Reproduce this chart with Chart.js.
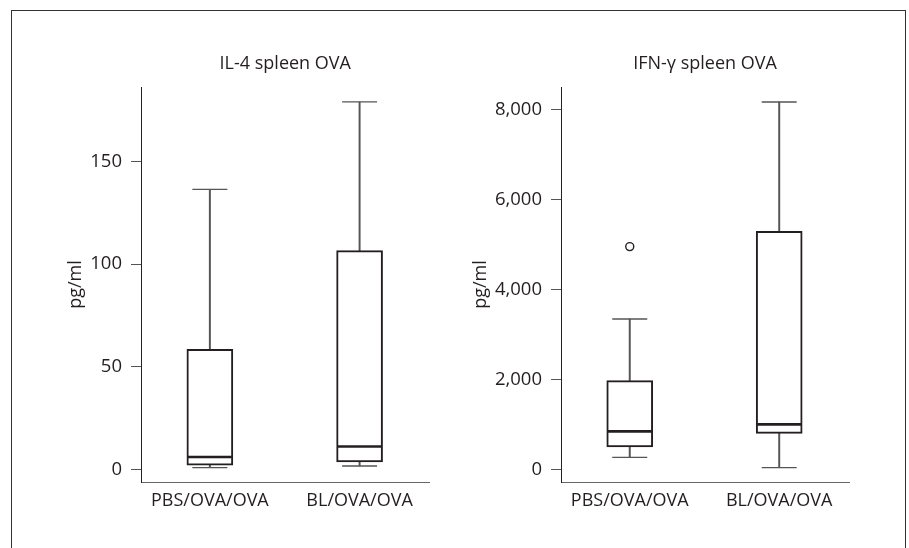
<!DOCTYPE html>
<html>
<head>
<meta charset="utf-8">
<script src="https://cdn.jsdelivr.net/npm/chart.js@4.4.1/dist/chart.umd.min.js"></script>
<style>
  html, body { margin: 0; padding: 0; background: #fff; }
  body { width: 909px; height: 548px; position: relative; overflow: hidden; }
  #frame { position: absolute; left: 11px; top: 10px; width: 893px; height: 600px; border: 1px solid #333; border-bottom: none; }
  canvas { position: absolute; top: 0; }
  #chartIL4 { left: 0; }
  #chartIFN { left: 455px; }
</style>
</head>
<body>
<div id="frame"></div>
<canvas id="chartIL4" width="455" height="548"></canvas>
<canvas id="chartIFN" width="454" height="548"></canvas>
<script>
// groups on the x axis
const categories = ["PBS/OVA/OVA", "BL/OVA/OVA"];

// IL-4 spleen OVA (pg/ml)
const il4Min = [0.8, 1.6];
const il4Q1 = [2.0, 3.6];
const il4Median = [6.0, 11.1];
const il4Q3 = [58.5, 106.6];
const il4Max = [136.5, 179.1];
const il4Ticks = [0, 50, 100, 150];

// IFN-γ spleen OVA (pg/ml)
const ifnMin = [267, 38];
const ifnQ1 = [496, 801];
const ifnMedian = [845, 1001];
const ifnQ3 = [1973, 5296];
const ifnMax = [3344, 8172];
const ifnTicks = [0, 2000, 4000, 6000, 8000];
const ifnOutlierGroup = [1];
const ifnOutlierValue = [4955];

const INK = "#231f20";
const WHISKER = "#555";

Chart.defaults.font.family = '"Open Sans", sans-serif';
Chart.defaults.font.size = 18;
Chart.defaults.color = INK;

function boxDatasets(mins, q1s, medians, q3s, maxs, outGroup = [], outValue = []) {
    const pos = categories.map((c, i) => i + 1);
    return [
        // outliers
        {
            type: "scatter",
            data: outGroup.map((g, i) => ({ x: g, y: outValue[i] })),
            pointStyle: "circle",
            pointRadius: 4,
            pointBackgroundColor: "#fff",
            pointBorderColor: INK,
            pointBorderWidth: 1.4
        },
        // medians
        {
            type: "scatter",
            data: pos.map((x, i) => ({ x, y: medians[i] })),
            pointStyle: "line",
            pointRadius: 22,
            pointBorderColor: INK,
            pointBorderWidth: 2.6
        },
        // whisker caps
        {
            type: "scatter",
            data: pos.map((x, i) => ({ x, y: maxs[i] })).concat(pos.map((x, i) => ({ x, y: mins[i] }))),
            pointStyle: "line",
            pointRadius: 17.5,
            pointBorderColor: WHISKER,
            pointBorderWidth: 1.3
        },
        // boxes
        {
            type: "bar",
            data: pos.map((x, i) => ({ x, y: [q1s[i], q3s[i]] })),
            backgroundColor: "#fff",
            borderColor: INK,
            borderWidth: 2,
            borderSkipped: false,
            barThickness: 46,
            grouped: false
        },
        // upper whiskers
        {
            type: "bar",
            data: pos.map((x, i) => ({ x, y: [q3s[i], maxs[i]] })),
            backgroundColor: WHISKER,
            borderWidth: 0,
            barThickness: 1.3,
            grouped: false
        },
        // lower whiskers
        {
            type: "bar",
            data: pos.map((x, i) => ({ x, y: [mins[i], q1s[i]] })),
            backgroundColor: WHISKER,
            borderWidth: 0,
            barThickness: 1.3,
            grouped: false
        }
    ];
}

function makeBoxChart(canvasId, opts) {
    const ctx = document.getElementById(canvasId);
    if (!ctx) return;

    return new Chart(ctx, {
        type: "bar",
        data: { datasets: opts.datasets },
        options: {
            responsive: false,
            animation: false,
            events: [],
            layout: { padding: { left: 0, top: 0, bottom: 0, right: opts.padRight } },
            plugins: {
                legend: { display: false },
                tooltip: { enabled: false },
                title: {
                    display: true,
                    text: opts.title,
                    fullSize: false,
                    color: INK,
                    font: { size: 18, weight: "normal" },
                    padding: { top: 53.4, bottom: 12 }
                }
            },
            scales: {
                x: {
                    type: "linear",
                    min: 0.54,
                    max: 2.467,
                    offset: false,
                    bounds: "data",
                    grid: { display: false, drawTicks: false, offset: false },
                    border: { display: true, color: "#666", width: 1 },
                    ticks: {
                        padding: 8.5,
                        maxRotation: 0,
                        autoSkip: false,
                        color: INK,
                        font: { size: 18 },
                        callback: (v, i) => categories[i]
                    },
                    afterBuildTicks: s => { s.ticks = categories.map((c, i) => ({ value: i + 1 })); },
                    afterFit: s => { s.height = 66; }
                },
                y: {
                    type: "linear",
                    min: opts.yMin,
                    max: opts.yMax,
                    bounds: "data",
                    grid: { display: true, drawOnChartArea: false, drawTicks: true, tickLength: 10, color: "#555", lineWidth: 1 },
                    border: { display: true, color: "#222", width: 1 },
                    ticks: {
                        padding: 9,
                        color: INK,
                        font: { size: 18.5 },
                        callback: v => v.toLocaleString("en-US")
                    },
                    afterBuildTicks: s => { s.ticks = opts.yTicks.map(v => ({ value: v })); },
                    afterFit: s => { s.width = opts.yWidth; },
                    title: {
                        display: true,
                        text: "pg/ml",
                        color: INK,
                        font: { size: 18 },
                        padding: { top: opts.yTitlePad, bottom: 0 }
                    }
                }
            }
        }
    });
}

makeBoxChart("chartIL4", {
    title: "IL-4 spleen OVA",
    datasets: boxDatasets(il4Min, il4Q1, il4Median, il4Q3, il4Max),
    yMin: -6.2,
    yMax: 186.4,
    yTicks: il4Ticks,
    yWidth: 141,
    yTitlePad: 65.2,
    padRight: 25.5
});

makeBoxChart("chartIFN", {
    title: "IFN-γ spleen OVA",
    datasets: boxDatasets(ifnMin, ifnQ1, ifnMedian, ifnQ3, ifnMax, ifnOutlierGroup, ifnOutlierValue),
    yMin: -282,
    yMax: 8506,
    yTicks: ifnTicks,
    yWidth: 106,
    yTitlePad: 15.2,
    padRight: 60
});
</script>
</body>
</html>
